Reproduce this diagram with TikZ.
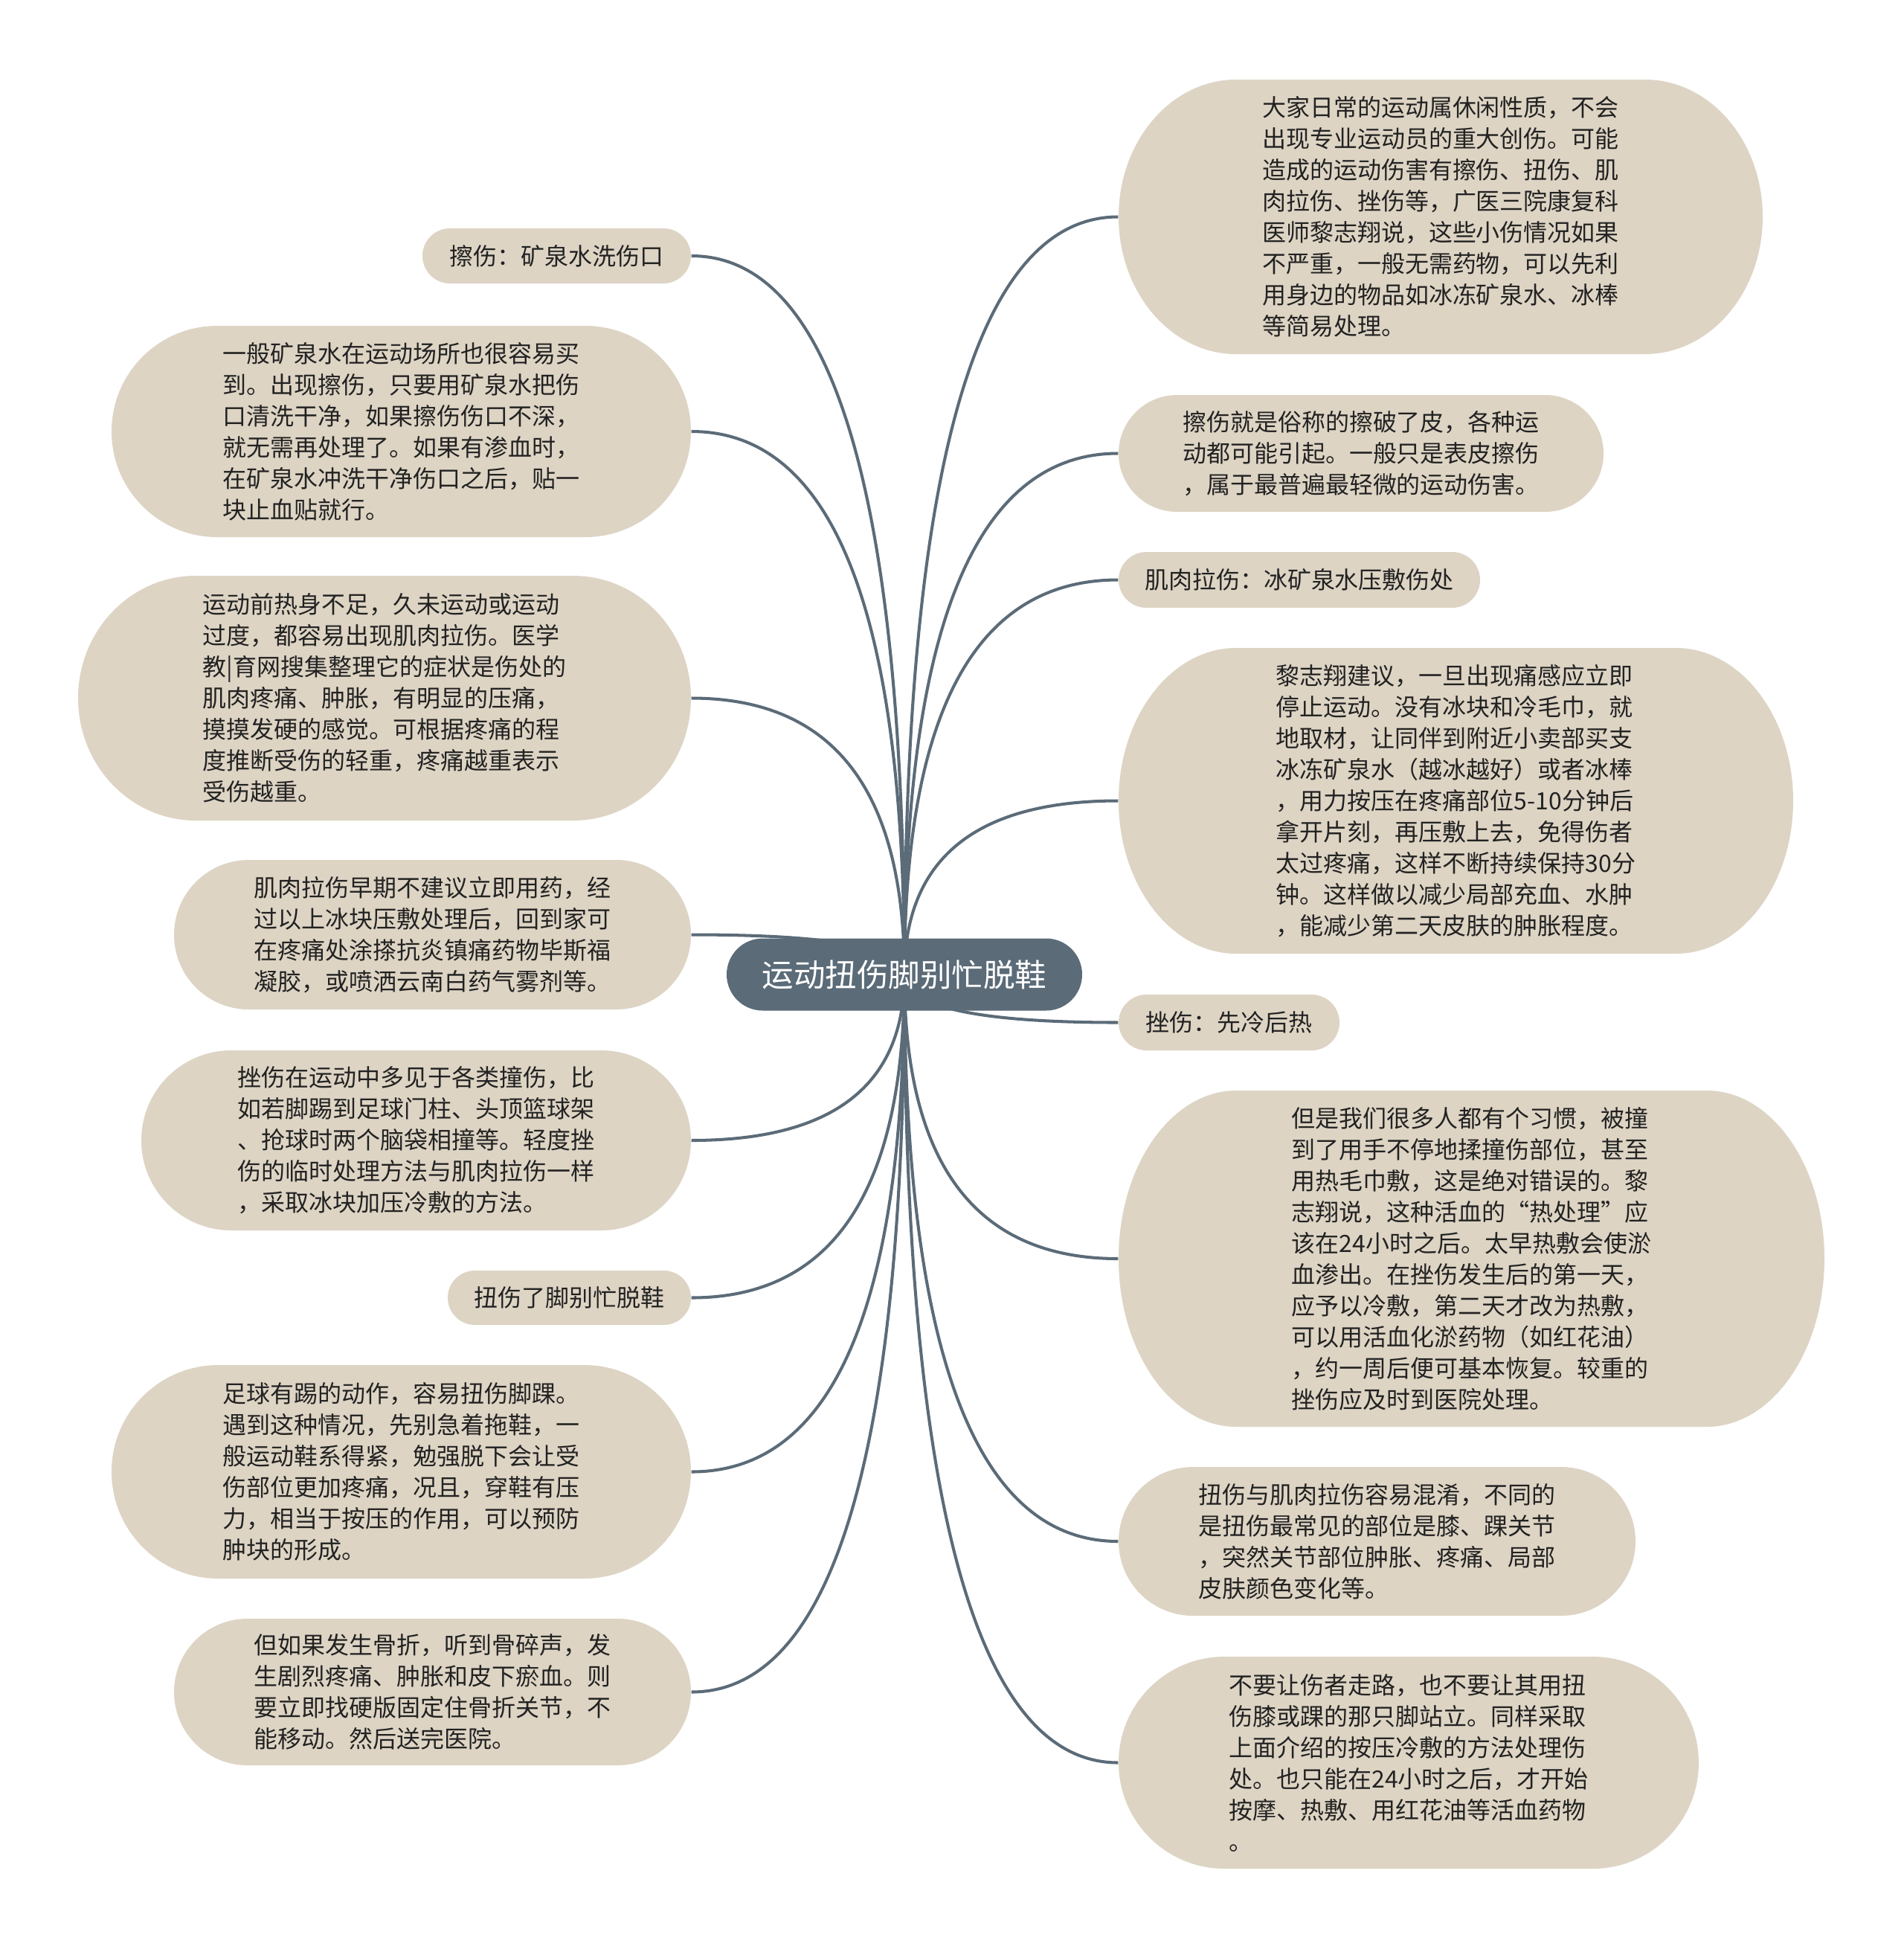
\documentclass[tikz,border=0pt]{standalone}
\usepackage{fontspec}
\setmainfont{Noto Sans CJK SC}
\usepackage{xcolor}
\usepackage{tikz}
\usetikzlibrary{calc,backgrounds}
\definecolor{rootcol}{HTML}{5B6B78}
\definecolor{leafcol}{HTML}{DDD4C4}
\definecolor{inkcol}{HTML}{222222}
\newcommand\leaffont{\fontsize{9.1pt}{11.95pt}\selectfont}
\newcommand\rootfont{\fontsize{12.1pt}{14pt}\selectfont}
\tikzset{
  blob/.style={path picture={\fill[#1] let \p1=(path picture bounding box.south west),\p2=(path picture bounding box.north east),\n1={(\y2-\y1)/2},\n2={min(\n1,45pt)} in
    (\x1+\n2,\y1)--(\x2-\n2,\y1) arc[start angle=-90,end angle=90,x radius=\n2,y radius=\n1]--(\x1+\n2,\y2) arc[start angle=90,end angle=270,x radius=\n2,y radius=\n1]--cycle;}},
  leaf/.style={blob=leafcol,inner sep=0pt,align=left,text=inkcol,font=\leaffont},
  topic/.style={blob=rootcol,inner sep=0pt,text=white,font=\rootfont,minimum width=4.78cm,minimum height=0.97cm},
  branch/.style={draw=rootcol,line width=1.15pt,
    to path={.. controls ($(\tikztostart)!2/3!(\tikztostart|-\tikztotarget)$) and ($(\tikztotarget)!2/3!(\tikztostart|-\tikztotarget)$) .. (\tikztotarget)}}
}
\begin{document}
\begin{tikzpicture}
\useasboundingbox (0,0) rectangle (25.6,-26.2);
\node[topic] (root) at (12.16,-13.10) {运动扭伤脚别忙脱鞋};
% left side
\node[leaf,minimum width=3.61cm,minimum height=0.74cm] (L1) at (7.485,-3.44) {擦伤：矿泉水洗伤口};
\node[leaf,minimum width=7.79cm,minimum height=2.84cm] (L2) at (5.395,-5.80) {一般矿泉水在运动场所也很容易买\\到。出现擦伤，只要用矿泉水把伤\\口清洗干净，如果擦伤伤口不深，\\就无需再处理了。如果有渗血时，\\在矿泉水冲洗干净伤口之后，贴一\\块止血贴就行。};
\node[leaf,minimum width=8.24cm,minimum height=3.29cm] (L3) at (5.17,-9.385) {运动前热身不足，久未运动或运动\\过度，都容易出现肌肉拉伤。医学\\教|育网搜集整理它的症状是伤处的\\肌肉疼痛、肿胀，有明显的压痛，\\摸摸发硬的感觉。可根据疼痛的程\\度推断受伤的轻重，疼痛越重表示\\受伤越重。};
\node[leaf,minimum width=6.95cm,minimum height=2.01cm] (L4) at (5.815,-12.565) {肌肉拉伤早期不建议立即用药，经\\过以上冰块压敷处理后，回到家可\\在疼痛处涂搽抗炎镇痛药物毕斯福\\凝胶，或喷洒云南白药气雾剂等。};
\node[leaf,minimum width=7.39cm,minimum height=2.42cm] (L5) at (5.595,-15.33) {挫伤在运动中多见于各类撞伤，比\\如若脚踢到足球门柱、头顶篮球架\\、抢球时两个脑袋相撞等。轻度挫\\伤的临时处理方法与肌肉拉伤一样\\，采取冰块加压冷敷的方法。};
\node[leaf,minimum width=3.27cm,minimum height=0.73cm] (L6) at (7.655,-17.445) {扭伤了脚别忙脱鞋};
\node[leaf,minimum width=7.79cm,minimum height=2.87cm] (L7) at (5.395,-19.785) {足球有踢的动作，容易扭伤脚踝。\\遇到这种情况，先别急着拖鞋，一\\般运动鞋系得紧，勉强脱下会让受\\伤部位更加疼痛，况且，穿鞋有压\\力，相当于按压的作用，可以预防\\肿块的形成。};
\node[leaf,minimum width=6.95cm,minimum height=1.97cm] (L8) at (5.815,-22.745) {但如果发生骨折，听到骨碎声，发\\生剧烈疼痛、肿胀和皮下瘀血。则\\要立即找硬版固定住骨折关节，不\\能移动。然后送完医院。};
% right side
\node[leaf,minimum width=8.66cm,minimum height=3.69cm] (R1) at (19.37,-2.915) {大家日常的运动属休闲性质，不会\\出现专业运动员的重大创伤。可能\\造成的运动伤害有擦伤、扭伤、肌\\肉拉伤、挫伤等，广医三院康复科\\医师黎志翔说，这些小伤情况如果\\不严重，一般无需药物，可以先利\\用身边的物品如冰冻矿泉水、冰棒\\等简易处理。};
\node[leaf,minimum width=6.52cm,minimum height=1.57cm] (R2) at (18.30,-6.095) {擦伤就是俗称的擦破了皮，各种运\\动都可能引起。一般只是表皮擦伤\\，属于最普遍最轻微的运动伤害。};
\node[leaf,minimum width=4.86cm,minimum height=0.75cm] (R3) at (17.47,-7.795) {肌肉拉伤：冰矿泉水压敷伤处};
\node[leaf,minimum width=9.07cm,minimum height=4.11cm] (R4) at (19.575,-10.765) {黎志翔建议，一旦出现痛感应立即\\停止运动。没有冰块和冷毛巾，就\\地取材，让同伴到附近小卖部买支\\冰冻矿泉水（越冰越好）或者冰棒\\，用力按压在疼痛部位5-10分钟后\\拿开片刻，再压敷上去，免得伤者\\太过疼痛，这样不断持续保持30分\\钟。这样做以减少局部充血、水肿\\，能减少第二天皮肤的肿胀程度。};
\node[leaf,minimum width=2.97cm,minimum height=0.75cm] (R5) at (16.525,-13.745) {挫伤：先冷后热};
\node[leaf,minimum width=9.49cm,minimum height=4.52cm] (R6) at (19.785,-16.92) {但是我们很多人都有个习惯，被撞\\到了用手不停地揉撞伤部位，甚至\\用热毛巾敷，这是绝对错误的。黎\\志翔说，这种活血的“热处理”应\\该在24小时之后。太早热敷会使淤\\血渗出。在挫伤发生后的第一天，\\应予以冷敷，第二天才改为热敷，\\可以用活血化淤药物（如红花油）\\，约一周后便可基本恢复。较重的\\挫伤应及时到医院处理。};
\node[leaf,minimum width=6.95cm,minimum height=2.00cm] (R7) at (18.515,-20.72) {扭伤与肌肉拉伤容易混淆，不同的\\是扭伤最常见的部位是膝、踝关节\\，突然关节部位肿胀、疼痛、局部\\皮肤颜色变化等。};
\node[leaf,minimum width=7.80cm,minimum height=2.85cm] (R8) at (18.94,-23.695) {不要让伤者走路，也不要让其用扭\\伤膝或踝的那只脚站立。同样采取\\上面介绍的按压冷敷的方法处理伤\\处。也只能在24小时之后，才开始\\按摩、热敷、用红花油等活血药物\\。};
% connectors
\begin{scope}[on background layer]
\fill[white] (0,0) rectangle (25.6,-26.2);
\foreach \i in {1,...,8}{
  \draw[branch] (root.center) to (L\i.east);
  \draw[branch] (root.center) to (R\i.west);
}
\end{scope}
\end{tikzpicture}
\end{document}
